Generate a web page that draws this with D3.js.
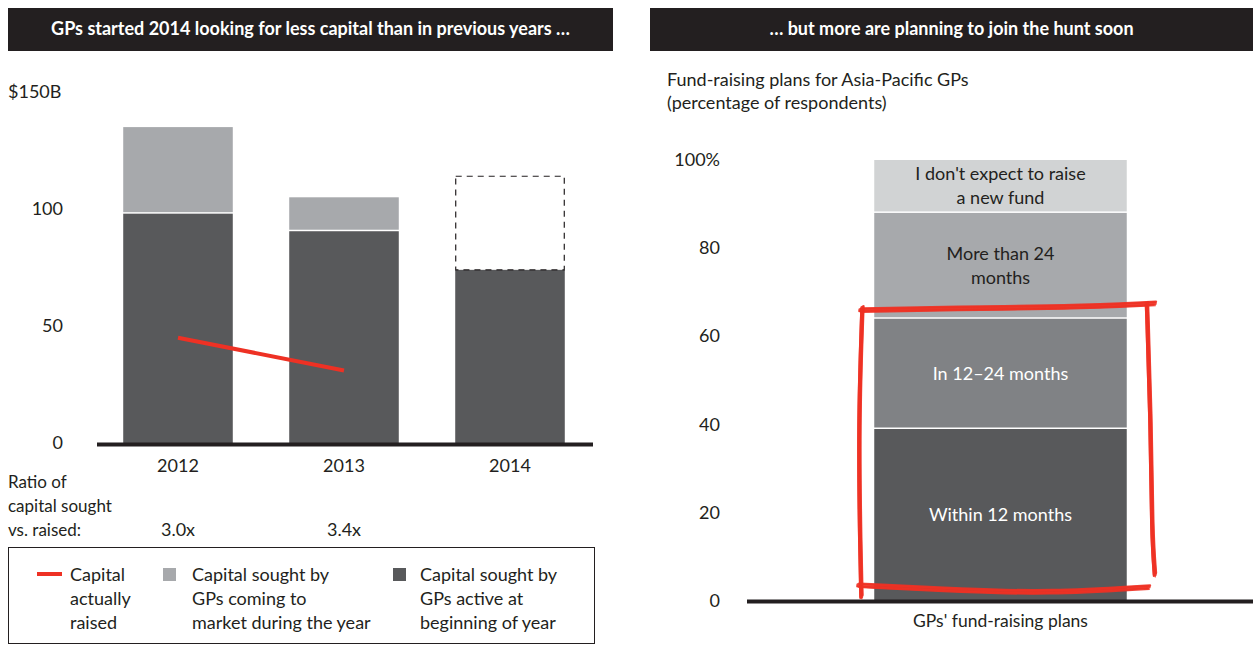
<!DOCTYPE html>
<html>
<head>
<meta charset="utf-8">
<script src="https://cdn.jsdelivr.net/npm/d3@7"></script>
<style>
  body { margin: 0; background: #fff; }
  svg { display: block; font-family: Lato, "Noto Sans", sans-serif; }
</style>
</head>
<body>
<svg id="chart" width="1253" height="645"></svg>
<script>
// Left panel data (billions of dollars)
const years = ["2012", "2013", "2014"];
const soughtActive = [98, 90.5, 74];      // GPs active at beginning of year
const soughtNew = [37, 14.5, null];       // GPs coming to market during the year
const projectedTotal = [null, null, 114]; // dashed outline for 2014
const raised = [45, 31];                  // capital actually raised (2012, 2013)
const ratios = ["3.0x", "3.4x", ""];
const leftTicks = [0, 50, 100];

// Right panel data (percentage of respondents)
const planCategory = "GPs' fund-raising plans";
const planLabels = [
    ["Within 12 months"],
    ["In 12\u201324 months"],
    ["More than 24", "months"],
    ["I don't expect to raise", "a new fund"]
];
const planValues = [39, 25, 24, 12];
const rightTicks = [0, 20, 40, 60, 80, 100];

const DARK = "#231f20",
      GRAY1 = "#58595b",
      GRAY2 = "#808285",
      GRAY3 = "#a7a9ac",
      GRAY4 = "#d1d3d4",
      RED = "#ee3124";

const FS = "18px";

const svg = d3.select("#chart");

// Header bars
function header(x, w, text) {
    svg.append("rect")
        .attr("x", x).attr("y", 8)
        .attr("width", w).attr("height", 43)
        .attr("fill", DARK);
    svg.append("text")
        .attr("x", x + w / 2).attr("y", 35)
        .attr("text-anchor", "middle")
        .attr("fill", "#fff")
        .attr("font-size", "18px")
        .attr("font-weight", "bold")
        .text(text);
}
header(8, 605, "GPs started 2014 looking for less capital than in previous years \u2026");
header(650, 603, "\u2026 but more are planning to join the hunt soon");

// ---------- Left chart ----------
const xL = d3.scaleBand()
    .domain(years)
    .range([95, 593])
    .paddingInner(0.34)
    .paddingOuter(0.17);

const yL = d3.scaleLinear()
    .domain([0, 150])
    .range([443, 92]);

const left = svg.append("g");

// y tick labels
left.selectAll(".ytick")
    .data(leftTicks)
    .join("text")
    .attr("x", 63)
    .attr("y", d => yL(d) + 6)
    .attr("text-anchor", "end")
    .attr("font-size", FS)
    .attr("fill", DARK)
    .text(d => d);

left.append("text")
    .attr("x", 8)
    .attr("y", yL(150) + 6)
    .attr("font-size", FS)
    .attr("fill", DARK)
    .text("$150B");

// stacked bars
left.selectAll(".active")
    .data(years)
    .join("rect")
    .attr("x", d => xL(d))
    .attr("width", xL.bandwidth())
    .attr("y", (d, i) => yL(soughtActive[i]))
    .attr("height", (d, i) => yL(0) - yL(soughtActive[i]))
    .attr("fill", GRAY1);

left.selectAll(".new")
    .data(years.filter((d, i) => soughtNew[i] != null))
    .join("rect")
    .attr("x", d => xL(d))
    .attr("width", xL.bandwidth())
    .attr("y", d => { const i = years.indexOf(d); return yL(soughtActive[i] + soughtNew[i]); })
    .attr("height", d => { const i = years.indexOf(d); return yL(soughtActive[i]) - yL(soughtActive[i] + soughtNew[i]) - 1.5; })
    .attr("fill", GRAY3);

// projected (dashed) outline
left.selectAll(".proj")
    .data(years.filter((d, i) => projectedTotal[i] != null))
    .join("rect")
    .attr("x", d => xL(d) + 0.5)
    .attr("width", xL.bandwidth() - 1)
    .attr("y", d => yL(projectedTotal[years.indexOf(d)]))
    .attr("height", d => { const i = years.indexOf(d); return yL(soughtActive[i]) - yL(projectedTotal[i]); })
    .attr("fill", "none")
    .attr("stroke", DARK)
    .attr("stroke-width", 1.2)
    .attr("stroke-dasharray", "6,5");

// capital raised line
const raisedLine = d3.line()
    .x((d, i) => xL(years[i]) + xL.bandwidth() / 2)
    .y(d => yL(d));

left.append("path")
    .datum(raised)
    .attr("d", raisedLine)
    .attr("fill", "none")
    .attr("stroke", RED)
    .attr("stroke-width", 4);

// baseline
left.append("line")
    .attr("x1", 97).attr("x2", 593)
    .attr("y1", yL(0) + 1.5).attr("y2", yL(0) + 1.5)
    .attr("stroke", DARK)
    .attr("stroke-width", 4);

// year labels
left.selectAll(".year")
    .data(years)
    .join("text")
    .attr("x", d => xL(d) + xL.bandwidth() / 2)
    .attr("y", 472)
    .attr("text-anchor", "middle")
    .attr("font-size", FS)
    .attr("fill", DARK)
    .text(d => d);

// ratio row
const ratioLabel = ["Ratio of", "capital sought", "vs. raised:"];
left.append("text")
    .attr("x", 8)
    .attr("font-size", "17px")
    .attr("fill", DARK)
    .selectAll("tspan")
    .data(ratioLabel)
    .join("tspan")
    .attr("x", 8)
    .attr("y", (d, i) => 488 + i * 24)
    .text(d => d);

left.selectAll(".ratio")
    .data(years)
    .join("text")
    .attr("x", d => xL(d) + xL.bandwidth() / 2)
    .attr("y", 536)
    .attr("text-anchor", "middle")
    .attr("font-size", FS)
    .attr("fill", DARK)
    .text((d, i) => ratios[i]);

// legend
const legend = svg.append("g");
legend.append("rect")
    .attr("x", 8.5).attr("y", 547.5)
    .attr("width", 586).attr("height", 96)
    .attr("fill", "none")
    .attr("stroke", DARK)
    .attr("stroke-width", 1);

const legendItems = [
    { type: "line", color: RED, x: 37, tx: 70, lines: ["Capital", "actually", "raised"] },
    { type: "box", color: GRAY3, x: 163, tx: 192, lines: ["Capital sought by", "GPs coming to", "market during the year"] },
    { type: "box", color: GRAY1, x: 393, tx: 420, lines: ["Capital sought by", "GPs active at", "beginning of year"] }
];

legendItems.forEach(item => {
    if (item.type === "line") {
        legend.append("line")
            .attr("x1", item.x).attr("x2", item.x + 25)
            .attr("y1", 574).attr("y2", 574)
            .attr("stroke", item.color)
            .attr("stroke-width", 4);
    } else {
        legend.append("rect")
            .attr("x", item.x).attr("y", 568)
            .attr("width", 13).attr("height", 13)
            .attr("fill", item.color);
    }
    legend.append("text")
        .attr("font-size", FS)
        .attr("fill", DARK)
        .selectAll("tspan")
        .data(item.lines)
        .join("tspan")
        .attr("x", item.tx)
        .attr("y", (d, i) => 581 + i * 24)
        .text(d => d);
});

// ---------- Right chart ----------
const xR = d3.scaleBand()
    .domain([planCategory])
    .range([748, 1253])
    .paddingInner(0.5)
    .paddingOuter(0.25);

const yR = d3.scaleLinear()
    .domain([0, 100])
    .range([601, 160]);

const right = svg.append("g");

right.append("text")
    .attr("font-size", FS)
    .attr("fill", DARK)
    .selectAll("tspan")
    .data(["Fund-raising plans for Asia-Pacific GPs", "(percentage of respondents)"])
    .join("tspan")
    .attr("x", 667)
    .attr("y", (d, i) => 86 + i * 23)
    .text(d => d);

right.selectAll(".ytick")
    .data(rightTicks)
    .join("text")
    .attr("x", 720)
    .attr("y", d => yR(d) + 6)
    .attr("text-anchor", "end")
    .attr("font-size", FS)
    .attr("fill", DARK)
    .text(d => d === 100 ? "100%" : d);

const stack = [];
let acc = 0;
planValues.forEach((v, i) => {
    stack.push({ y0: acc, y1: acc + v, label: planLabels[i], i });
    acc += v;
});
const planColors = [GRAY1, GRAY2, GRAY3, GRAY4];
const planText = ["#fff", "#fff", DARK, DARK];

right.selectAll(".seg")
    .data(stack)
    .join("rect")
    .attr("x", xR(planCategory))
    .attr("width", xR.bandwidth())
    .attr("y", d => yR(d.y1))
    .attr("height", d => yR(d.y0) - yR(d.y1) - (d.i === 0 ? 0 : 1.5))
    .attr("fill", d => planColors[d.i]);

stack.forEach(d => {
    const cy = (yR(d.y0) + yR(d.y1)) / 2;
    const n = d.label.length;
    right.append("text")
        .attr("text-anchor", "middle")
        .attr("font-size", FS)
        .attr("fill", planText[d.i])
        .selectAll("tspan")
        .data(d.label)
        .join("tspan")
        .attr("x", xR(planCategory) + xR.bandwidth() / 2)
        .attr("y", (t, j) => cy + 6 + (j - (n - 1) / 2) * 24)
        .text(t => t);
});

right.append("line")
    .attr("x1", 747).attr("x2", 1253)
    .attr("y1", yR(0) + 0.5).attr("y2", yR(0) + 0.5)
    .attr("stroke", DARK)
    .attr("stroke-width", 4);

right.append("text")
    .attr("x", xR(planCategory) + xR.bandwidth() / 2)
    .attr("y", 627)
    .attr("text-anchor", "middle")
    .attr("font-size", "17.5px")
    .attr("fill", DARK)
    .text(planCategory);

// hand-drawn red highlight around the first two segments
const bx0 = xR(planCategory), bx1 = bx0 + xR.bandwidth();
const hiTop = planValues[0] + planValues[1];
const hl = d3.line().curve(d3.curveBasis);
const strokes = [
    // top
    [[bx0 - 14, yR(hiTop + 2)], [bx0 + 80, yR(hiTop + 2.4)], [bx1 - 60, yR(hiTop + 2.6)], [bx1 + 28, yR(hiTop + 3.5)]],
    // left
    [[bx0 - 12, yR(hiTop + 2.5)], [bx0 - 16, yR(40)], [bx0 - 14, yR(10)], [bx0 - 13, yR(1)]],
    // bottom
    [[bx0 - 16, yR(3.6)], [bx0 + 90, yR(2.4)], [bx1 - 80, yR(1.8)], [bx1 + 22, yR(3.2)]],
    // right
    [[bx1 + 20, yR(hiTop + 3.4)], [bx1 + 24, yR(40)], [bx1 + 25, yR(15)], [bx1 + 28, yR(6)]]
];
const offsets = [[0, 0, 4], [1.2, -1.5, 2.5], [-1, 1.4, 2], [0.5, 2.4, 1.2]];
strokes.forEach(pts => {
    offsets.forEach(o => {
        right.append("path")
            .attr("d", hl(pts.map(p => [p[0] + o[0], p[1] + o[1]])))
            .attr("fill", "none")
            .attr("stroke", RED)
            .attr("stroke-width", o[2])
            .attr("stroke-linecap", "round")
            .attr("opacity", 0.9);
    });
});
</script>
</body>
</html>
